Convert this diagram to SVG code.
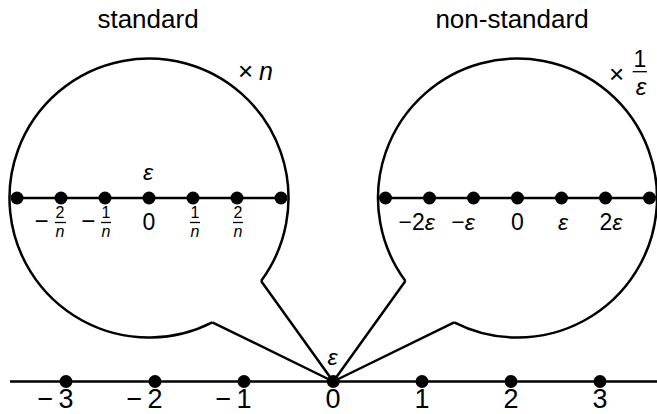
<svg xmlns="http://www.w3.org/2000/svg" width="657" height="414" viewBox="0 0 657 414">
<style>
.ln{fill:none;stroke:#000;stroke-width:2.5;stroke-linejoin:miter}
.dot{fill:#000}
.t{font-family:"Liberation Sans",Arial,sans-serif;fill:#000;text-anchor:middle}
.it{font-style:italic}
.bar{stroke:#000;stroke-width:1.3}
.ax{font-size:27px}
.fr{font-size:16px}
</style>
<defs>
<circle id="d" r="6.5" class="dot"/>
</defs>
<rect width="657" height="414" fill="#fff"/>
<g id="titles">
<text class="t" x="148" y="28" font-size="26">standard</text>
<text class="t" x="512" y="28" font-size="26">non-standard</text>
</g>
<g id="left-lens">
<path class="ln" d="M212.3 322.3 A139.5 139.5 0 1 1 261.1 281"/>
<line class="ln" x1="17" y1="198" x2="281" y2="198"/>
<use href="#d" x="17" y="198"/><use href="#d" x="61" y="198"/><use href="#d" x="105" y="198"/><use href="#d" x="149" y="198"/><use href="#d" x="193" y="198"/><use href="#d" x="237" y="198"/><use href="#d" x="281" y="198"/>
<text class="t" x="245.5" y="80" font-size="26">×</text>
<text class="t it" x="266" y="80" font-size="25">n</text>
<text class="t it" x="148" y="180" font-size="23">ε</text>
<text class="t" x="41.5" y="229" font-size="24">−</text>
<text class="t fr" x="60" y="218">2</text>
<line class="bar" x1="55" y1="222.5" x2="66" y2="222.5"/>
<text class="t it fr" x="60" y="237">n</text>
<text class="t" x="88.3" y="229" font-size="24">−</text>
<text class="t fr" x="106" y="218">1</text>
<line class="bar" x1="101" y1="222.5" x2="111" y2="222.5"/>
<text class="t it fr" x="106" y="237">n</text>
<text class="t" x="149" y="230" font-size="23">0</text>
<text class="t fr" x="195" y="218">1</text>
<line class="bar" x1="190" y1="222.5" x2="200" y2="222.5"/>
<text class="t it fr" x="195" y="237">n</text>
<text class="t fr" x="238" y="218">2</text>
<line class="bar" x1="233" y1="222.5" x2="243" y2="222.5"/>
<text class="t it fr" x="238" y="237">n</text>
</g>
<g id="right-lens">
<path class="ln" d="M454.2 322.3 A139.5 139.5 0 1 0 405.4 281"/>
<line class="ln" x1="385.5" y1="198" x2="649.5" y2="198"/>
<use href="#d" x="385.5" y="198"/><use href="#d" x="429.5" y="198"/><use href="#d" x="473.5" y="198"/><use href="#d" x="517.5" y="198"/><use href="#d" x="561.5" y="198"/><use href="#d" x="605.5" y="198"/><use href="#d" x="649.5" y="198"/>
<text class="t" x="616.5" y="83" font-size="26">×</text>
<text class="t" x="640" y="66.7" font-size="23">1</text>
<line class="bar" x1="632.7" y1="71.7" x2="647" y2="71.7" stroke-width="1.5"/>
<text class="t it" x="641" y="95" font-size="24">ε</text>
<text class="t" x="416.7" y="230" font-size="23">−2<tspan class="it">ε</tspan></text>
<text class="t" x="463" y="230" font-size="23">−<tspan class="it">ε</tspan></text>
<text class="t" x="517.5" y="230" font-size="23">0</text>
<text class="t it" x="563" y="230" font-size="23">ε</text>
<text class="t" x="611" y="230" font-size="23">2<tspan class="it">ε</tspan></text>
</g>
<g id="axis">
<line class="ln" x1="10" y1="381.5" x2="657" y2="381.5"/>
<use href="#d" x="66" y="381.5"/><use href="#d" x="155" y="381.5"/><use href="#d" x="244" y="381.5"/><use href="#d" x="333.25" y="381.5"/><use href="#d" x="422" y="381.5"/><use href="#d" x="511" y="381.5"/><use href="#d" x="600" y="381.5"/>
<text class="t it" x="332.5" y="365" font-size="23">ε</text>
<text class="t ax" x="45.5" y="408">−</text><text class="t ax" x="66" y="408">3</text>
<text class="t ax" x="134.5" y="408">−</text><text class="t ax" x="155" y="408">2</text>
<text class="t ax" x="223.5" y="408">−</text><text class="t ax" x="244" y="408">1</text>
<text class="t ax" x="333" y="408">0</text>
<text class="t ax" x="422" y="408">1</text>
<text class="t ax" x="511" y="408">2</text>
<text class="t ax" x="600" y="408">3</text>
</g>
<g id="connectors">
<polyline class="ln" points="212.3,322.3 333.25,381.5 261.1,281"/>
<polyline class="ln" points="454.2,322.3 333.25,381.5 405.4,281"/>
</g>
</svg>
